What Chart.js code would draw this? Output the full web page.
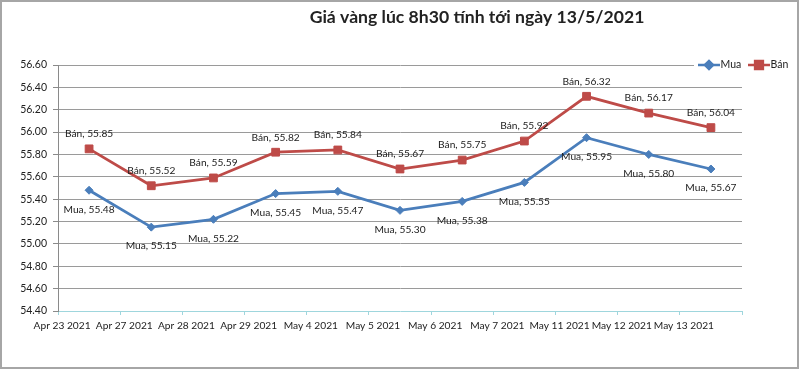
<!DOCTYPE html>
<html>
<head>
<meta charset="utf-8">
<script src="https://cdn.jsdelivr.net/npm/chart.js@4.4.1/dist/chart.umd.min.js"></script>
<style>
  html, body { margin: 0; padding: 0; background: #fff; }
  #wrap { position: relative; width: 800px; height: 370px; }
</style>
</head>
<body>
<div id="wrap"><canvas id="c"></canvas></div>
<script>
const chartTitle = 'Giá vàng lúc 8h30 tính tới ngày 13/5/2021';
const categories = ['Apr 23 2021', 'Apr 27 2021', 'Apr 28 2021', 'Apr 29 2021', 'May 4 2021', 'May 5 2021', 'May 6 2021', 'May 7 2021', 'May 11 2021', 'May 12 2021', 'May 13 2021'];
const seriesNames = ['Mua', 'Bán'];
const muaValues = [55.48, 55.15, 55.22, 55.45, 55.47, 55.30, 55.38, 55.55, 55.95, 55.80, 55.67];
const banValues = [55.85, 55.52, 55.59, 55.82, 55.84, 55.67, 55.75, 55.92, 56.32, 56.17, 56.04];
const yMin = 54.40, yMax = 56.60, yStep = 0.20;

const FONT = 'Lato, "Liberation Sans", sans-serif';
const BLUE = '#4a7ebb';
const RED = '#be4b48';

const decorPlugin = {
  id: 'decor',
  afterDatasetsDraw(chart) {
    const ctx = chart.ctx;
    ctx.save();
    ctx.font = '10.2px ' + FONT;
    ctx.fillStyle = '#222';
    ctx.textAlign = 'center';
    ctx.textBaseline = 'middle';
    chart.data.datasets.forEach((ds, i) => {
      const meta = chart.getDatasetMeta(i);
      meta.data.forEach((el, j) => {
        const v = ds.data[j];
        const dy = i === 0 ? 19 : -15;
        ctx.fillText(ds.label + ', ' + v.toFixed(2), el.x, el.y + dy);
      });
    });
    ctx.restore();
  },
  afterDraw(chart) {
    const ctx = chart.ctx;
    ctx.save();
    // title
    ctx.font = 'bold 17.6px ' + FONT;
    ctx.fillStyle = '#222';
    ctx.textAlign = 'center';
    ctx.textBaseline = 'middle';
    ctx.fillText(chartTitle, 477, 17);
    // legend
    ctx.fillStyle = '#fff';
    ctx.fillRect(694, 57, 102, 16);
    const ly = 65;
    const items = [
      { name: seriesNames[0], color: BLUE, x: 698, shape: 'rectRot', r: 4 },
      { name: seriesNames[1], color: RED, x: 748, shape: 'rect', r: 5.5 }
    ];
    items.forEach(it => {
      ctx.strokeStyle = it.color;
      ctx.lineWidth = 2.5;
      ctx.beginPath();
      ctx.moveTo(it.x, ly);
      ctx.lineTo(it.x + 22, ly);
      ctx.stroke();
      ctx.fillStyle = it.color;
      Chart.helpers.drawPoint(ctx, { pointStyle: it.shape, radius: it.r, borderWidth: 1 }, it.x + 11, ly);
      ctx.fill();
      ctx.fillStyle = '#222';
      ctx.font = '10.5px ' + FONT;
      ctx.textAlign = 'left';
      ctx.textBaseline = 'middle';
      ctx.fillText(it.name, it.x + 22.5, ly);
    });
    // outer border
    ctx.strokeStyle = '#a6a6a6';
    ctx.lineWidth = 2;
    ctx.strokeRect(1, 1, 797, 367);
    ctx.restore();
  }
};

new Chart(document.getElementById('c'), {
  type: 'line',
  data: {
    labels: categories,
    datasets: [
      {
        label: seriesNames[0],
        data: muaValues,
        borderColor: BLUE,
        backgroundColor: BLUE,
        borderWidth: 2.75,
        pointStyle: 'rectRot',
        pointRadius: 4,
        pointBorderWidth: 1,
        tension: 0
      },
      {
        label: seriesNames[1],
        data: banValues,
        borderColor: RED,
        backgroundColor: RED,
        borderWidth: 2.75,
        pointStyle: 'rect',
        pointRadius: 5.5,
        pointBorderWidth: 1,
        tension: 0
      }
    ]
  },
  options: {
    responsive: true,
    maintainAspectRatio: false,
    animation: false,
    devicePixelRatio: 1,
    layout: { padding: { top: 65, right: 58, left: 0, bottom: 0 } },
    plugins: {
      legend: { display: false },
      title: { display: false },
      tooltip: { enabled: false }
    },
    scales: {
      x: {
        type: 'category',
        offset: true,
        afterFit(scale) { scale.height = 59; },
        grid: {
          offset: true,
          drawOnChartArea: false,
          drawTicks: true,
          tickLength: 4,
          color: '#9fd6dd'
        },
        border: { color: '#9fd6dd', width: 1 },
        ticks: {
          autoSkip: false,
          maxRotation: 0,
          minRotation: 0,
          labelOffset: -27,
          padding: 5,
          color: '#222',
          font: { family: FONT, size: 10.2 }
        }
      },
      y: {
        min: yMin,
        max: yMax,
        afterFit(scale) { scale.width = 58; },
        grid: {
          color: (c) => c.index === 0 ? 'rgba(0,0,0,0)' : '#9a9a9a',
          tickColor: '#8a8a8a',
          tickLength: 5,
          lineWidth: 1
        },
        border: { color: '#8a8a8a', width: 1 },
        ticks: {
          stepSize: yStep,
          padding: 6,
          color: '#222',
          font: { family: FONT, size: 10.5 },
          callback: (v) => Number(v).toFixed(2)
        }
      }
    }
  },
  plugins: [decorPlugin]
});
</script>
</body>
</html>
